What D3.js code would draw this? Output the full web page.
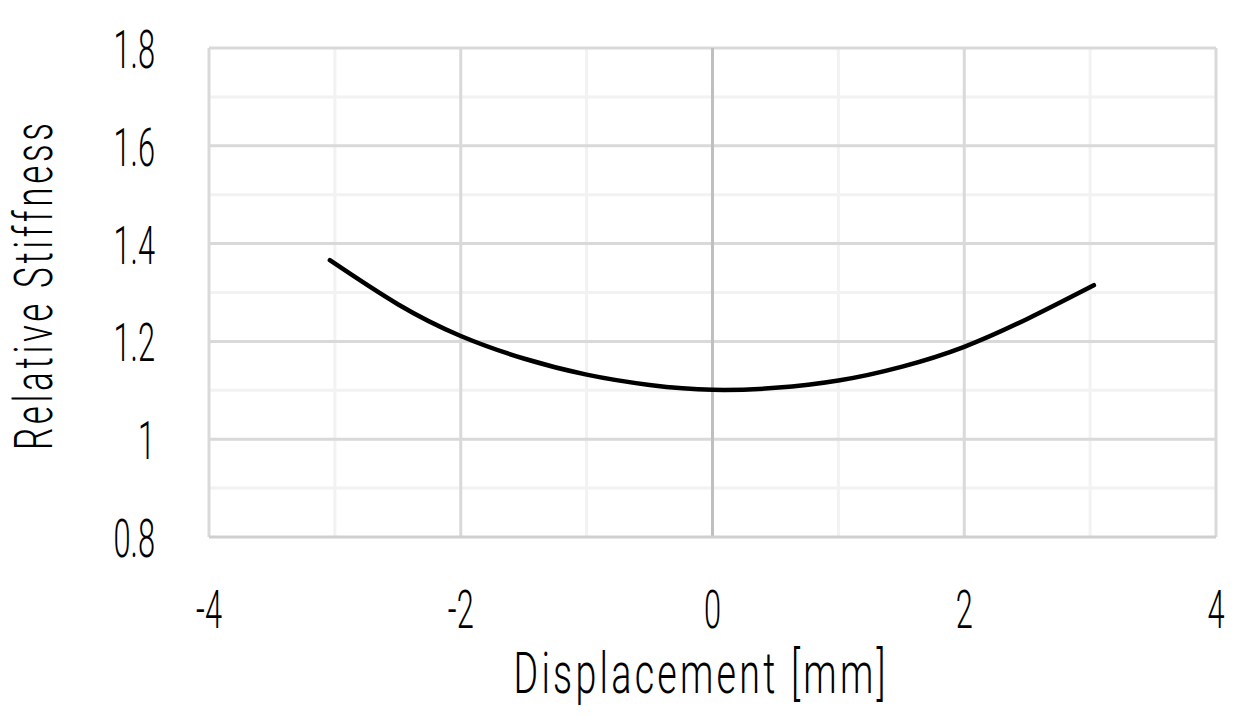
<html>
<head>
<style>
body { margin: 0; background: #fff; }
text { font-family: Roboto, "Open Sans", sans-serif; font-weight: 300; fill: #000; }
</style>
</head>
<body>
<div id="vis"></div>
<script src="https://cdn.jsdelivr.net/npm/d3@7"></script>
<script>
// data
var displacement = [-3.04, -2.5, -2, -1.5, -1, -0.5, 0, 0.5, 1, 1.5, 2, 2.5, 3.03];
var stiffness = [1.366, 1.276, 1.211, 1.165, 1.132, 1.111, 1.101, 1.105, 1.120, 1.148, 1.189, 1.246, 1.315];
var xTicks = [-4, -2, 0, 2, 4];
var xMinor = [-3, -1, 1, 3];
var yTicks = [0.8, 1, 1.2, 1.4, 1.6, 1.8];
var yMinor = [0.9, 1.1, 1.3, 1.5, 1.7];

var margin = {top: 48, right: 40, bottom: 180, left: 209},
    width = 1256 - margin.left - margin.right,
    height = 717 - margin.top - margin.bottom;

var x = d3.scaleLinear().domain([-4, 4]).range([0, width]);
var y = d3.scaleLinear().domain([0.8, 1.8]).range([height, 0]);

var svg = d3.select("#vis").append("svg")
    .attr("width", 1256)
    .attr("height", 717)
  .append("g")
    .attr("transform", "translate(" + margin.left + "," + margin.top + ")");

// no condensed font installed, so squeeze a light one
function label(sel, tx, ty, anchor, txt, size, sq, len, rot) {
  var g = sel.append("g")
      .attr("transform", "translate(" + tx + "," + ty + ")" + (rot ? " rotate(" + rot + ")" : ""));
  var t = g.append("text")
      .attr("transform", "scale(" + sq + ",1)")
      .attr("text-anchor", anchor)
      .style("font-size", size + "px")
      .text(txt);
  if (len) t.attr("textLength", len / sq).attr("lengthAdjust", "spacing");
}

// minor grid
svg.selectAll(".yMinor").data(yMinor).enter().append("line")
    .attr("x1", 0).attr("x2", width)
    .attr("y1", function(d) { return y(d); }).attr("y2", function(d) { return y(d); })
    .attr("stroke", "#f2f2f2").attr("stroke-width", 3);
svg.selectAll(".xMinor").data(xMinor).enter().append("line")
    .attr("y1", 0).attr("y2", height)
    .attr("x1", function(d) { return x(d); }).attr("x2", function(d) { return x(d); })
    .attr("stroke", "#f2f2f2").attr("stroke-width", 3);

// major grid
svg.selectAll(".yMajor").data(yTicks.slice(1)).enter().append("line")
    .attr("x1", 0).attr("x2", width)
    .attr("y1", function(d) { return y(d); }).attr("y2", function(d) { return y(d); })
    .attr("stroke", "#d9d9d9").attr("stroke-width", 3);
svg.selectAll(".xMajor").data(xTicks.filter(function(d) { return d != 0; })).enter().append("line")
    .attr("y1", 0).attr("y2", height)
    .attr("x1", function(d) { return x(d); }).attr("x2", function(d) { return x(d); })
    .attr("stroke", "#d9d9d9").attr("stroke-width", 3);

// axis lines
svg.append("line")
    .attr("x1", x(0)).attr("x2", x(0)).attr("y1", 0).attr("y2", height)
    .attr("stroke", "#bfbfbf").attr("stroke-width", 3);
svg.append("line")
    .attr("x1", 0).attr("x2", width).attr("y1", y(0.8)).attr("y2", y(0.8))
    .attr("stroke", "#cfcfcf").attr("stroke-width", 3);

// the curve
var line = d3.line()
    .x(function(d, i) { return x(displacement[i]); })
    .y(function(d) { return y(d); })
    .curve(d3.curveNatural);
svg.append("path")
    .datum(stiffness)
    .attr("d", line)
    .attr("fill", "none")
    .attr("stroke", "#000")
    .attr("stroke-width", 4.5)
    .attr("stroke-linecap", "round");

// tick labels
yTicks.forEach(function(d) {
  label(svg, -54, y(d) + 20, "end", d3.format("")(d), 53, 0.58);
});
xTicks.forEach(function(d) {
  label(svg, x(d), height + 91, "middle", d < 0 ? "-" + Math.abs(d) : String(d), 53, 0.58);
});

// axis titles
label(svg, x(0) - 13, height + 156, "middle", "Displacement  [mm]", 57, 0.66, 372);
label(svg, -157, y(1.3) - 6, "middle", "Relative Stiffness", 53, 0.66, 327, -90);
</script>
</body>
</html>
